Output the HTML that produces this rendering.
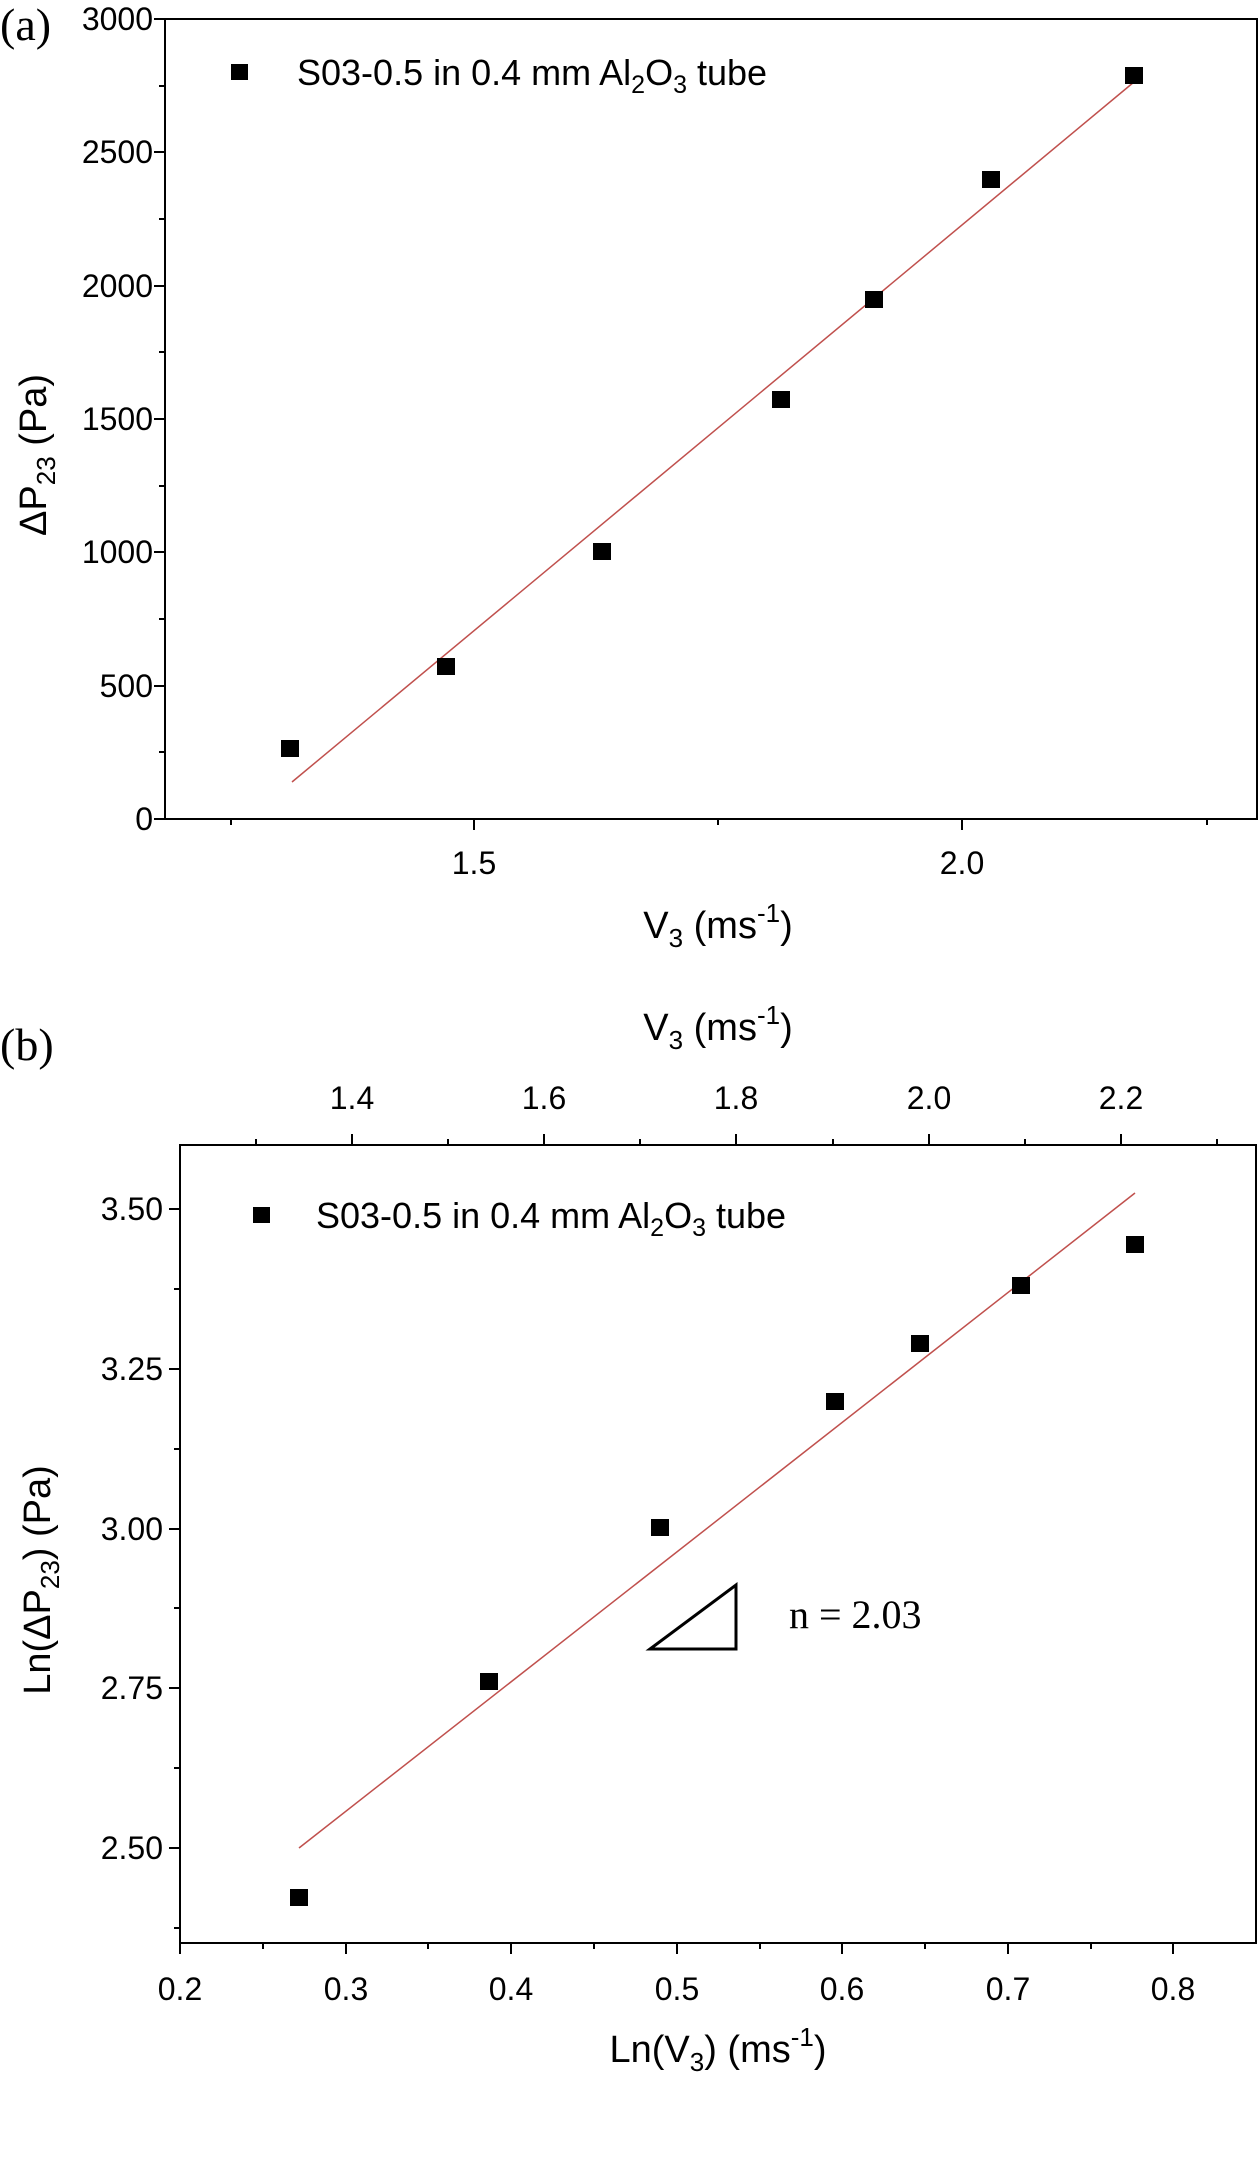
<!DOCTYPE html>
<html><head><style>body{margin:0;background:#fff}svg{display:block}</style></head><body>
<svg width="1260" height="2159" xmlns="http://www.w3.org/2000/svg" font-family="Liberation Sans, sans-serif" font-size="32">
<rect width="1260" height="2159" fill="#fff"/>
<!-- (a) -->
<text x="0" y="40" font-family="Liberation Serif, serif" font-size="46">(a)</text>
<rect x="165" y="19" width="1092" height="800" fill="none" stroke="#000" stroke-width="2"/>
<g stroke="#000" stroke-width="2">
<line x1="165" y1="819" x2="154" y2="819"/><line x1="165" y1="686" x2="154" y2="686"/><line x1="165" y1="552" x2="154" y2="552"/><line x1="165" y1="419" x2="154" y2="419"/><line x1="165" y1="286" x2="154" y2="286"/><line x1="165" y1="152" x2="154" y2="152"/><line x1="165" y1="19" x2="154" y2="19"/>
<line x1="165" y1="752" x2="159" y2="752"/><line x1="165" y1="619" x2="159" y2="619"/><line x1="165" y1="486" x2="159" y2="486"/><line x1="165" y1="352" x2="159" y2="352"/><line x1="165" y1="219" x2="159" y2="219"/><line x1="165" y1="86" x2="159" y2="86"/>
<line x1="474" y1="819" x2="474" y2="830"/><line x1="962" y1="819" x2="962" y2="830"/>
<line x1="231" y1="819" x2="231" y2="825"/><line x1="718" y1="819" x2="718" y2="825"/><line x1="1207" y1="819" x2="1207" y2="825"/>
</g>
<g text-anchor="end">
<text x="153" y="830">0</text><text x="153" y="697">500</text><text x="153" y="563">1000</text><text x="153" y="430">1500</text><text x="153" y="297">2000</text><text x="153" y="163">2500</text><text x="153" y="30">3000</text>
</g>
<g text-anchor="middle"><text x="474" y="874">1.5</text><text x="962" y="874">2.0</text></g>
<g font-size="38">
<text x="718" y="938" text-anchor="middle">V<tspan font-size="26" dy="9">3</tspan><tspan dy="-9"> (ms</tspan><tspan font-size="26" dy="-16">-1</tspan><tspan dy="16">)</tspan></text>
<text transform="translate(46,455) rotate(-90)" text-anchor="middle">ΔP<tspan font-size="26" dy="9">23</tspan><tspan dy="-9"> (Pa)</tspan></text>
</g>
<rect x="231" y="64" width="17" height="16"/>
<text x="297" y="85" font-size="36">S03-0.5 in 0.4 mm Al<tspan font-size="25" dy="8">2</tspan><tspan dy="-8">O</tspan><tspan font-size="25" dy="8">3</tspan><tspan dy="-8"> tube</tspan></text>
<line x1="292" y1="782" x2="1134" y2="82" stroke="#c0504d" stroke-width="1.5"/>
<g>
<rect x="281" y="740" width="18" height="17"/><rect x="437" y="658" width="18" height="17"/><rect x="593" y="543" width="18" height="17"/><rect x="772" y="391" width="18" height="17"/><rect x="865" y="291" width="18" height="17"/><rect x="982" y="171" width="18" height="17"/><rect x="1125" y="67" width="18" height="17"/>
</g>
<!-- (b) -->
<text x="0" y="1060" font-family="Liberation Serif, serif" font-size="46">(b)</text>
<g font-size="38">
<text x="718" y="1040" text-anchor="middle">V<tspan font-size="26" dy="9">3</tspan><tspan dy="-9"> (ms</tspan><tspan font-size="26" dy="-16">-1</tspan><tspan dy="16">)</tspan></text>
<text x="718" y="2062" text-anchor="middle">Ln(V<tspan font-size="26" dy="9">3</tspan><tspan dy="-9">) (ms</tspan><tspan font-size="26" dy="-16">-1</tspan><tspan dy="16">)</tspan></text>
<text transform="translate(50,1580) rotate(-90)" text-anchor="middle">Ln(ΔP<tspan font-size="26" dy="9">23</tspan><tspan dy="-9">) (Pa)</tspan></text>
</g>
<rect x="180" y="1145" width="1076" height="798" fill="none" stroke="#000" stroke-width="2"/>
<g stroke="#000" stroke-width="2">
<line x1="352" y1="1145" x2="352" y2="1134"/><line x1="544" y1="1145" x2="544" y2="1134"/><line x1="736" y1="1145" x2="736" y2="1134"/><line x1="929" y1="1145" x2="929" y2="1134"/><line x1="1121" y1="1145" x2="1121" y2="1134"/>
<line x1="256" y1="1145" x2="256" y2="1139"/><line x1="448" y1="1145" x2="448" y2="1139"/><line x1="640" y1="1145" x2="640" y2="1139"/><line x1="833" y1="1145" x2="833" y2="1139"/><line x1="1025" y1="1145" x2="1025" y2="1139"/><line x1="1217" y1="1145" x2="1217" y2="1139"/>
<line x1="180" y1="1943" x2="180" y2="1954"/><line x1="346" y1="1943" x2="346" y2="1954"/><line x1="511" y1="1943" x2="511" y2="1954"/><line x1="677" y1="1943" x2="677" y2="1954"/><line x1="842" y1="1943" x2="842" y2="1954"/><line x1="1008" y1="1943" x2="1008" y2="1954"/><line x1="1173" y1="1943" x2="1173" y2="1954"/>
<line x1="263" y1="1943" x2="263" y2="1949"/><line x1="428" y1="1943" x2="428" y2="1949"/><line x1="594" y1="1943" x2="594" y2="1949"/><line x1="760" y1="1943" x2="760" y2="1949"/><line x1="925" y1="1943" x2="925" y2="1949"/><line x1="1091" y1="1943" x2="1091" y2="1949"/>
<line x1="180" y1="1209" x2="169" y2="1209"/><line x1="180" y1="1369" x2="169" y2="1369"/><line x1="180" y1="1529" x2="169" y2="1529"/><line x1="180" y1="1688" x2="169" y2="1688"/><line x1="180" y1="1848" x2="169" y2="1848"/>
<line x1="180" y1="1289" x2="174" y2="1289"/><line x1="180" y1="1449" x2="174" y2="1449"/><line x1="180" y1="1608" x2="174" y2="1608"/><line x1="180" y1="1768" x2="174" y2="1768"/><line x1="180" y1="1928" x2="174" y2="1928"/>
</g>
<g text-anchor="middle">
<text x="352" y="1109">1.4</text><text x="544" y="1109">1.6</text><text x="736" y="1109">1.8</text><text x="929" y="1109">2.0</text><text x="1121" y="1109">2.2</text>
<text x="180" y="2000">0.2</text><text x="346" y="2000">0.3</text><text x="511" y="2000">0.4</text><text x="677" y="2000">0.5</text><text x="842" y="2000">0.6</text><text x="1008" y="2000">0.7</text><text x="1173" y="2000">0.8</text>
</g>
<g text-anchor="end">
<text x="163" y="1220">3.50</text><text x="163" y="1380">3.25</text><text x="163" y="1540">3.00</text><text x="163" y="1699">2.75</text><text x="163" y="1859">2.50</text>
</g>
<rect x="253" y="1207" width="17" height="16"/>
<text x="316" y="1228" font-size="36">S03-0.5 in 0.4 mm Al<tspan font-size="25" dy="8">2</tspan><tspan dy="-8">O</tspan><tspan font-size="25" dy="8">3</tspan><tspan dy="-8"> tube</tspan></text>
<line x1="299" y1="1848" x2="1135" y2="1193" stroke="#c0504d" stroke-width="1.5"/>
<g>
<rect x="290" y="1889" width="18" height="17"/><rect x="480" y="1673" width="18" height="17"/><rect x="651" y="1519" width="18" height="17"/><rect x="826" y="1393" width="18" height="17"/><rect x="911" y="1335" width="18" height="17"/><rect x="1012" y="1277" width="18" height="17"/><rect x="1126" y="1236" width="18" height="17"/>
</g>
<polygon points="650,1649 736,1649 736,1585" fill="none" stroke="#000" stroke-width="3"/>
<text x="789" y="1628" font-family="Liberation Serif, serif" font-size="40">n = 2.03</text>
</svg>
</body></html>
